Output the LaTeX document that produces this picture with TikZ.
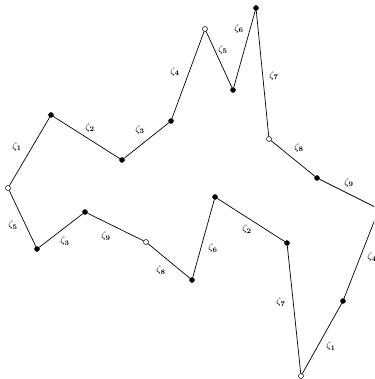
\documentclass[tikz,border=0pt]{standalone}
\usepackage{amsmath, amssymb}
\usetikzlibrary{positioning}
\tikzset{
  fdot/.style={circle, fill=black, draw=black, inner sep=0pt, minimum size=5pt},
  odot/.style={circle, fill=white, draw=black, line width=0.5pt, inner sep=0pt, minimum size=5pt},
  edge/.style={draw=black, line width=0.7pt},
  zlab/.style={font=\normalsize, inner sep=0pt}
}
\newcommand{\zl}[1]{$\zeta_{\boldsymbol{#1}}$}

\begin{document}
\begin{tikzpicture}[x=1pt, y=-1pt]
    \clip (0,0) rectangle (374,379);

    % Vertices of the outline
    \node[odot] (a) at (8,188) {};
    \node[fdot] (b) at (51,115) {};
    \node[fdot] (c) at (122,160) {};
    \node[fdot] (d) at (171,121) {};
    \node[odot] (e) at (205,29) {};
    \node[fdot] (f) at (233,90) {};
    \node[fdot] (g) at (256,8) {};
    \node[odot] (h) at (269,139) {};
    \node[fdot] (i) at (317,178) {};
    \coordinate (j) at (379,209);
    \node[fdot] (k) at (343,301) {};
    \node[odot] (l) at (301,376) {};
    \node[fdot] (m) at (287,243) {};
    \node[fdot] (n) at (215,197) {};
    \node[fdot] (o) at (192,280) {};
    \node[odot] (p) at (146,242) {};
    \node[fdot] (q) at (85,212) {};
    \node[fdot] (r) at (37,249) {};

    % Outline
    \draw[edge] (a) -- (b) -- (c) -- (d) -- (e) -- (f) -- (g) -- (h) -- (i) -- (j)
                -- (k) -- (l) -- (m) -- (n) -- (o) -- (p) -- (q) -- (r) -- (a);

    % Upper labels
    \node[zlab] (z1) at (17,147) {\zl{1}};
    \node[zlab] (z2) at (90,128) {\zl{2}};
    \node[zlab] (z3) at (140,130) {\zl{3}};
    \node[zlab] (z4) at (175,72) {\zl{4}};
    \node[zlab] (z5) at (223,50) {\zl{5}};
    \node[zlab] (z6) at (239,29) {\zl{6}};
    \node[zlab] (z7) at (274,76) {\zl{7}};
    \node[zlab] (z8) at (299,148) {\zl{8}};
    \node[zlab] (z9) at (349,183) {\zl{9}};

    % Lower labels
    \node[zlab] (y5) at (13,225) {\zl{5}};
    \node[zlab] (y3) at (65,241) {\zl{3}};
    \node[zlab] (y9) at (106,236) {\zl{9}};
    \node[zlab] (y8) at (161,270) {\zl{8}};
    \node[zlab] (y6) at (213,248) {\zl{6}};
    \node[zlab] (y2) at (247,229) {\zl{2}};
    \node[zlab] (y7) at (281,302) {\zl{7}};
    \node[zlab] (y1) at (331,346) {\zl{1}};
    \node[zlab] (y4) at (372,257) {\zl{4}};
\end{tikzpicture}
\end{document}
